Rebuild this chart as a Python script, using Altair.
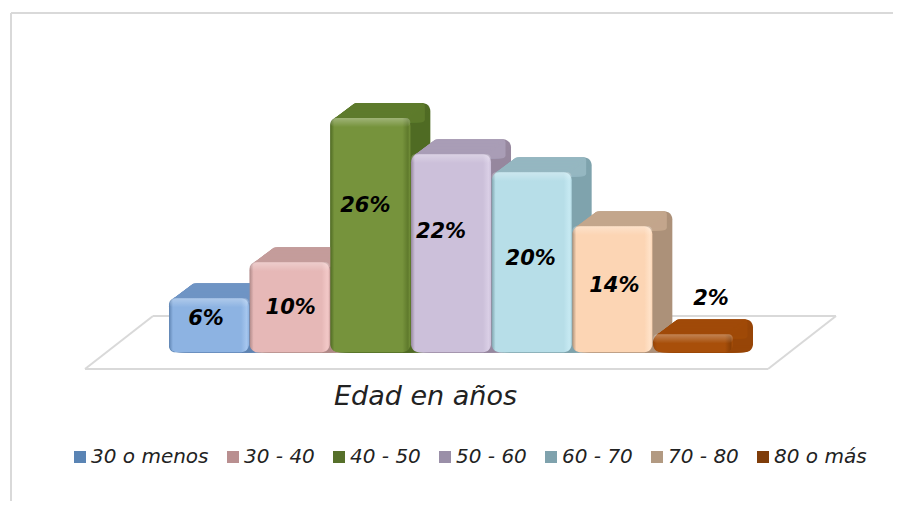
import altair as alt
import pandas as pd

categories = ["30 o menos", "30 - 40", "40 - 50", "50 - 60", "60 - 70", "70 - 80", "80 o más"]
values = [6, 10, 26, 22, 20, 14, 2]
labels = ["6%", "10%", "26%", "22%", "20%", "14%", "2%"]
label_y = [3.7, 4.9, 16.25, 13.35, 10.35, 7.35, 5.9]
label_dx = [-3, 1, -5, -10, -1, 2, 18]
front_mid = ["#8DB3E2", "#E6B8B7", "#76933C", "#CCC0DA", "#B7DEE8", "#FCD5B4", "#A84F0A"]
front_edge = ["#A6C6EE", "#F2C8C7", "#5F7A2C", "#DACFE6", "#C6E9F2", "#FFE2C8", "#8A3F05"]
depth_top = ["#6F94C4", "#C49C9B", "#5E7B2C", "#A99DB6", "#95B7C1", "#C3A68C", "#A04A08"]
depth_side = ["#5F84B2", "#B08A89", "#506B24", "#97889F", "#7FA3AD", "#AD9179", "#974507"]
legend_colors = ["#5A84B4", "#B98F90", "#56702A", "#9A8FA8", "#7FA2AD", "#B29A82", "#7F3D0A"]

df = pd.DataFrame({"Edad": categories, "valor": values, "etiqueta": labels, "pos": label_y})
df["tope"] = df["valor"] - 1.0
df["cara"] = df["valor"] - 0.45

x_scale = alt.Scale(domain=categories, range=[161, 725], paddingInner=0.008, paddingOuter=0)
y_scale = alt.Scale(domain=[-16.5, 38.22], range=[493, 0])
x_axis = alt.Axis(domain=False, ticks=False, labels=False, title="Edad en años", titleFont="DejaVu Sans",
                  titleFontSize=27, titleFontStyle="italic", titleFontWeight=400, titleColor="#222222",
                  titleX=417, titleY=-91, titleAnchor="middle", titleAlign="center", titleBaseline="bottom")
X = alt.X("Edad:N", scale=x_scale, axis=x_axis, sort=categories)
Y = alt.Y("valor:Q", scale=y_scale, axis=None)
Y0 = alt.Y2(datum=0)

layers = []


def rule(x, x2, y, y2, color="#D9D9D9", w=2):
    return alt.Chart(df).transform_filter(alt.datum.Edad == categories[0]).mark_rule(
        color=color, strokeWidth=w).encode(x=alt.value(x), x2=alt.value(x2), y=alt.value(y), y2=alt.value(y2))


# frame and floor
layers += [
    rule(3, 3, 5, 493),
    rule(3, 885, 5, 5),
    rule(77, 760, 361, 361),
    rule(145, 828, 308, 308),
    rule(77, 145, 361, 308),
    rule(760, 828, 361, 308),
]

# base bars carry the legend
layers.append(
    alt.Chart(df).mark_bar(cornerRadius=6).encode(
        x=X, y=Y, y2=Y0,
        color=alt.Color("Edad:N", sort=categories,
                        scale=alt.Scale(domain=categories, range=legend_colors),
                        legend=alt.Legend(orient="none", legendX=62, legendY=439, direction="horizontal",
                                          columns=7, title=None, symbolType="square", symbolSize=144,
                                          symbolStrokeWidth=0, labelFont="DejaVu Sans", labelFontSize=20,
                                          labelFontStyle="italic", labelColor="#222222", labelOffset=1,
                                          columnPadding=14, symbolOpacity=1)),
    )
)

for i, cat in enumerate(categories):
    one = alt.Chart(df).transform_filter(alt.datum.Edad == cat)
    n = 20
    # extruded right side
    for k in range(n, 0, -1):
        layers.append(
            one.mark_bar(cornerRadius=8, color=depth_side[i], xOffset=k, yOffset=-0.75 * k).encode(x=X, y=Y, y2=Y0)
        )
    # top face: thin slices stepped back along the depth
    for k in range(n, 0, -1):
        layers.append(
            one.mark_bar(cornerRadius=3, color=depth_top[i], xOffset=k - 1.5, yOffset=-0.75 * k).encode(
                x=alt.X("Edad:N", scale=x_scale, axis=x_axis, sort=categories, bandPosition=0.5),
                y=Y, y2=alt.Y2("cara:Q"), size=alt.value(72))
        )
    # front face
    layers.append(
        one.mark_bar(cornerRadius=8, color=alt.LinearGradient(gradient="linear", x1=0, x2=1, y1=0, y2=0, stops=[
            alt.GradientStop(offset=0, color=depth_side[i]),
            alt.GradientStop(offset=0.05, color=front_mid[i]),
            alt.GradientStop(offset=0.9, color=front_mid[i]),
            alt.GradientStop(offset=0.97, color=front_edge[i]),
            alt.GradientStop(offset=1, color=front_mid[i])])).encode(x=X, y=Y, y2=Y0)
    )
    # top bevel highlight
    layers.append(
        one.mark_bar(cornerRadius=6, color=alt.LinearGradient(gradient="linear", x1=0, x2=0, y1=0, y2=1, stops=[
            alt.GradientStop(offset=0, color="rgba(255,255,255,0.30)"),
            alt.GradientStop(offset=1, color="rgba(255,255,255,0)")])).encode(
            x=X, y=Y, y2=alt.Y2("tope:Q"))
    )

for i, cat in enumerate(categories):
    layers.append(
        alt.Chart(df).transform_filter(alt.datum.Edad == cat).mark_text(
            font="DejaVu Sans", fontSize=21, fontWeight="bold", fontStyle="italic", color="#000000", dx=label_dx[i]
        ).encode(x=X, y=alt.Y("pos:Q", scale=y_scale, axis=None), text="etiqueta:N")
    )

chart = alt.layer(*layers).properties(
    width=885, height=493, padding=0, autosize=alt.AutoSizeParams(type="none"), background="#FFFFFF"
).configure_view(stroke=None)

chart.save("out.html", embed_options={"renderer": "svg", "actions": False})
